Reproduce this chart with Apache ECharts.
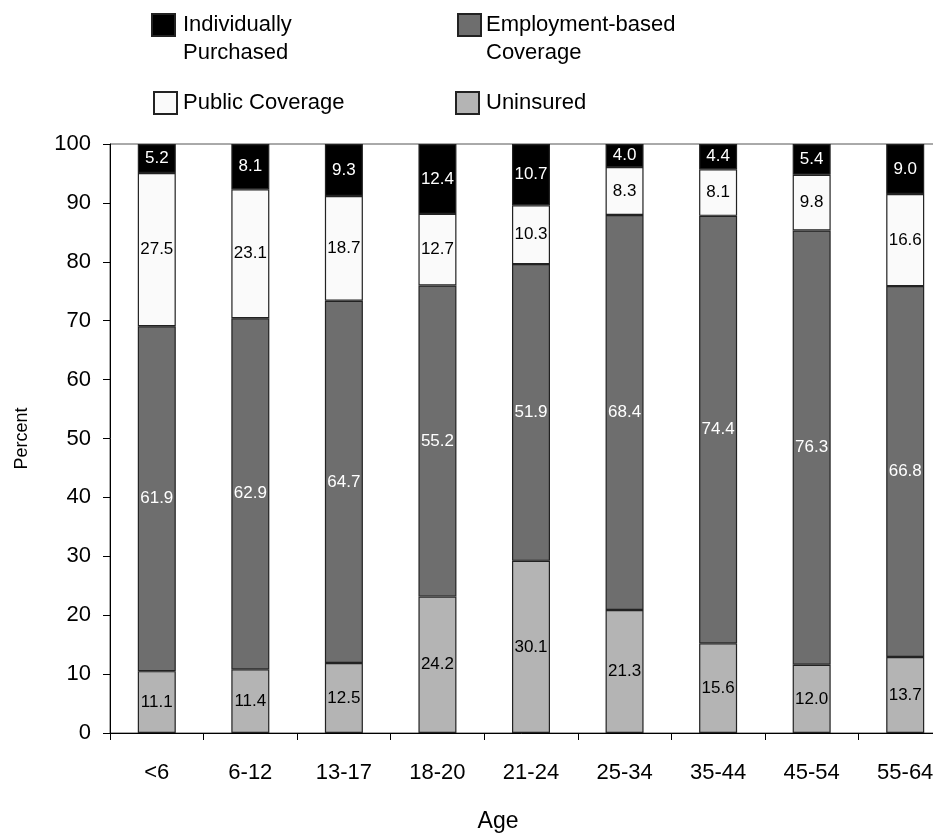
<!DOCTYPE html>
<html>
<head>
<meta charset="utf-8">
<script src="https://cdn.jsdelivr.net/npm/echarts@6/dist/echarts.min.js"></script>
<style>html,body{margin:0;padding:0;background:#fff;}#c{width:933px;height:833px;}</style>
</head>
<body>
<div id="c"></div>
<script>
const categories = ['<6', '6-12', '13-17', '18-20', '21-24', '25-34', '35-44', '45-54', '55-64'];
const uninsured = [11.1, 11.4, 12.5, 24.2, 30.1, 21.3, 15.6, 12.0, 13.7];
const employment = [61.9, 62.9, 64.7, 55.2, 51.9, 68.4, 74.4, 76.3, 66.8];
const publicCov = [27.5, 23.1, 18.7, 12.7, 10.3, 8.3, 8.1, 9.8, 16.6];
const individual = [5.2, 8.1, 9.3, 12.4, 10.7, 4.0, 4.4, 5.4, 9.0];
const yTicks = [0, 100, 10];

const FONT = '"Liberation Sans", Arial, Helvetica, sans-serif';
// Segments are scaled so each bar reaches 100; labels show the reported values.
const totals = categories.map((_, i) => uninsured[i] + employment[i] + publicCov[i] + individual[i]);
function scaled(arr) { return arr.map((v, i) => ({ value: v / totals[i] * 100, raw: v })); }

function mkSeries(name, arr, color, textColor) {
  return {
    name: name, type: 'bar', stack: 'all', barWidth: 38,
    data: scaled(arr),
    itemStyle: { color: color, borderColor: '#222', borderWidth: 1.2 },
    label: {
      show: true, position: 'inside', color: textColor,
      fontFamily: FONT, fontSize: 17,
      formatter: p => p.data.raw.toFixed(1)
    },
    emphasis: { disabled: true }
  };
}

function legendItem(name, left, top, padLeft, twoLine) {
  const o = {
    orient: 'horizontal', padding: 0, itemWidth: 23, itemHeight: 22,
    selectedMode: false, icon: 'rect', left: left, top: top,
    data: [{ name: name }],
    textStyle: { fontFamily: FONT, fontSize: 22, color: '#000', lineHeight: 28, padding: [0, 0, 0, padLeft] }
  };
  if (twoLine) o.formatter = n => ' \n' + n;
  return o;
}

const chart = echarts.init(document.getElementById('c'), null, { renderer: 'canvas' });
chart.setOption({
  animation: false,
  backgroundColor: '#fff',
  legend: [
    legendItem('Individually\nPurchased', 151, -17, 3, true),
    legendItem('Employment-based\nCoverage', 457, -17, 0, true),
    legendItem('Public Coverage', 153, 89, 1, false),
    legendItem('Uninsured', 455, 89, 2, false)
  ],
  grid: { left: 110, right: -19, top: 144, bottom: 100, outerBoundsMode: 'none', containLabel: false, show: true, borderColor: '#555', borderWidth: 1, backgroundColor: 'transparent' },
  xAxis: {
    type: 'category', data: categories,
    name: 'Age', nameLocation: 'middle', nameGap: 77,
    nameTextStyle: { fontFamily: FONT, fontSize: 23, color: '#000', padding: [0, 66, 0, 0] },
    axisLine: { show: true, lineStyle: { color: '#000', width: 1 } },
    axisTick: { show: true, alignWithLabel: false, length: 7, lineStyle: { color: '#000' } },
    axisLabel: { fontFamily: FONT, fontSize: 22, color: '#000', margin: 29 },
    splitLine: { show: false }
  },
  yAxis: {
    type: 'value', min: yTicks[0], max: yTicks[1], interval: yTicks[2],
    name: 'Percent', nameLocation: 'middle', nameGap: 79, nameRotate: 90,
    nameTextStyle: { fontFamily: FONT, fontSize: 18, color: '#000' },
    axisLine: { show: true, lineStyle: { color: '#000', width: 1 } },
    axisTick: { show: true, length: 7, lineStyle: { color: '#000' } },
    axisLabel: { fontFamily: FONT, fontSize: 22, color: '#000', margin: 19 },
    splitLine: { show: false }
  },
  series: [
    mkSeries('Uninsured', uninsured, '#b4b4b4', '#000'),
    mkSeries('Employment-based\nCoverage', employment, '#6e6e6e', '#fff'),
    mkSeries('Public Coverage', publicCov, '#fafafa', '#000'),
    mkSeries('Individually\nPurchased', individual, '#000000', '#fff')
  ]
});
</script>
</body>
</html>
